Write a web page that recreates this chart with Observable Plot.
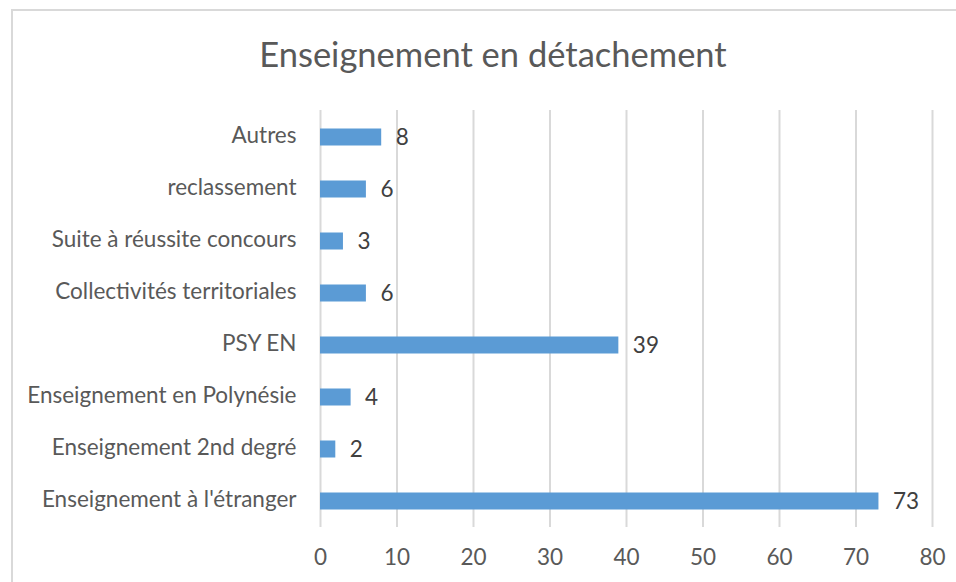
<!DOCTYPE html>
<html>
<head>
<meta charset="utf-8">
<script src="https://cdn.jsdelivr.net/npm/d3@7"></script>
<script src="https://cdn.jsdelivr.net/npm/@observablehq/plot@0.6"></script>
<style>
  body { margin: 0; background: #fff; }
  #wrap { position: relative; width: 956px; height: 582px; overflow: hidden; font-family: Lato, "Open Sans", sans-serif; }
  #frame { position: absolute; left: 11px; top: 9px; width: 1000px; height: 700px; border: 2px solid #d9d9d9; box-sizing: border-box; }
  #title { position: absolute; left: 12px; width: 962px; top: 33px; text-align: center; font-size: 34.5px; color: #595959; line-height: 42px; }
  #chart { position: absolute; left: 0; top: 0; }
</style>
</head>
<body>
<div id="wrap">
  <div id="frame"></div>
  <div id="title">Enseignement en détachement</div>
  <div id="chart"></div>
</div>
<script>
const categories = [
  "Autres",
  "reclassement",
  "Suite à réussite concours",
  "Collectivités territoriales",
  "PSY EN",
  "Enseignement en Polynésie",
  "Enseignement 2nd degré",
  "Enseignement à l'étranger"
];
const values = [8, 6, 3, 6, 39, 4, 2, 73];
const xTicks = [0, 10, 20, 30, 40, 50, 60, 70, 80];

const data = categories.map((c, i) => ({category: c, value: values[i]}));

const FS = 22.5;
const plot = Plot.plot({
  width: 956,
  height: 582,
  marginLeft: 320,
  marginRight: 24,
  marginTop: 110,
  marginBottom: 55,
  style: {fontFamily: "Lato, 'Open Sans', sans-serif", fontSize: FS + "px", color: "#595959", background: "transparent"},
  x: {domain: [0, 80], ticks: xTicks, label: null},
  y: {domain: categories, padding: 0, label: null},
  marks: [
    Plot.ruleX(xTicks, {stroke: "#d9d9d9", strokeWidth: 2, strokeOpacity: 1}),
    Plot.barX(data, {x: "value", y: "category", fill: "#5b9bd5", insetTop: 17.5, insetBottom: 17.5}),
    Plot.text(data, {x: "value", y: "category", text: d => String(d.value), textAnchor: "start", dx: 14, dy: 0, fill: "#404040", fontSize: FS}),
    Plot.axisX(xTicks, {tickSize: 0, tickPadding: 22, fontSize: FS, fill: "#595959", label: null}),
    Plot.axisY({tickSize: 0, tickPadding: 24, dy: -1.5, fontSize: FS, fill: "#595959", label: null})
  ]
});
document.getElementById("chart").appendChild(plot);
</script>
</body>
</html>
